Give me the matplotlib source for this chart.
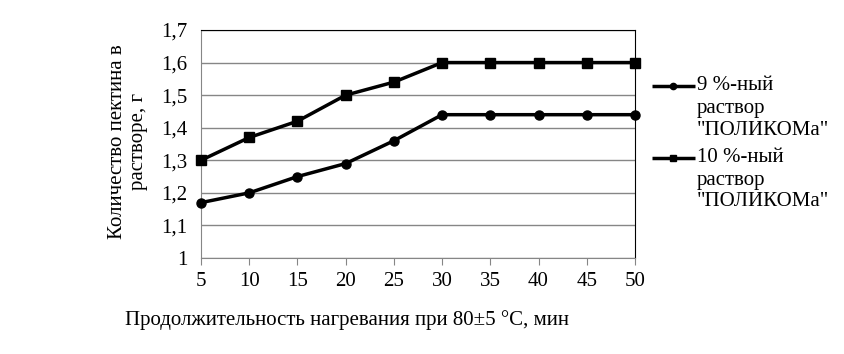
import matplotlib.pyplot as plt
from matplotlib.lines import Line2D

plt.rcParams['font.family'] = ['Liberation Serif', 'DejaVu Serif']

# Данные
minutes = [5, 10, 15, 20, 25, 30, 35, 40, 45, 50]
pectin_9 = [1.17, 1.20, 1.25, 1.29, 1.36, 1.44, 1.44, 1.44, 1.44, 1.44]
pectin_10 = [1.30, 1.37, 1.42, 1.50, 1.54, 1.60, 1.60, 1.60, 1.60, 1.60]
yticks = [1.0, 1.1, 1.2, 1.3, 1.4, 1.5, 1.6, 1.7]
ytick_labels = ['1', '1,1', '1,2', '1,3', '1,4', '1,5', '1,6', '1,7']
label_9 = ['9 %-ный', 'раствор', '"ПОЛИКОМа"']
label_10 = ['10 %-ный', 'раствор', '"ПОЛИКОМа"']

W, H = 845, 354
fig = plt.figure(figsize=(W / 100, H / 100), dpi=100)
ax = fig.add_axes([201 / W, 1 - 258 / H, 434 / W, 228 / H])

ax.plot(minutes, pectin_9, color='black', lw=2.5, marker='o', ms=6.5, clip_on=False, zorder=3)
ax.plot(minutes, pectin_10, color='black', lw=2.5, marker='s', ms=6.5, clip_on=False, zorder=3)

ax.set_xlim(5, 50)
ax.set_ylim(1.0, 1.7)
ax.set_xticks(minutes)
ax.set_yticks(yticks)
ax.set_yticklabels(ytick_labels)
ax.yaxis.grid(True, color='#868686', lw=1)
ax.set_axisbelow(True)

for side in ['left', 'bottom']:
    ax.spines[side].set_color('#868686')
for side in ['top', 'right']:
    ax.spines[side].set_color('black')
ax.tick_params(axis='x', direction='out', length=5, color='#868686', labelsize=15, pad=5)
ax.tick_params(axis='y', length=0, labelsize=15, pad=10)

# подпись оси X смещена влево, как в оригинале
fig.text(347 / W, 1 - 320 / H, 'Продолжительность нагревания при 80±5 °С, мин',
         ha='center', va='center', fontsize=15)
fig.text(128 / W, 1 - 142 / H, 'Количество пектина в\nрастворе, г', rotation=90,
         ha='center', va='center', fontsize=15, linespacing=1.15)

# легенда вручную: маркер на уровне первой строки подписи
for y_px, mk, ms, lines in [(86, 'o', 4.5, label_9), (158, 's', 5, label_10)]:
    yf = 1 - y_px / H
    fig.add_artist(Line2D([652 / W, 695 / W], [yf, yf], transform=fig.transFigure,
                          color='black', lw=2.5, solid_capstyle='butt'))
    fig.add_artist(Line2D([673.5 / W], [yf], transform=fig.transFigure,
                          color='black', marker=mk, ms=ms, lw=0))
    for i, line in enumerate(lines):
        fig.text(697 / W, 1 - (y_px + 22 * i) / H, line, ha='left', va='center',
                 fontsize=15)

fig.savefig('out.png', dpi=100)
